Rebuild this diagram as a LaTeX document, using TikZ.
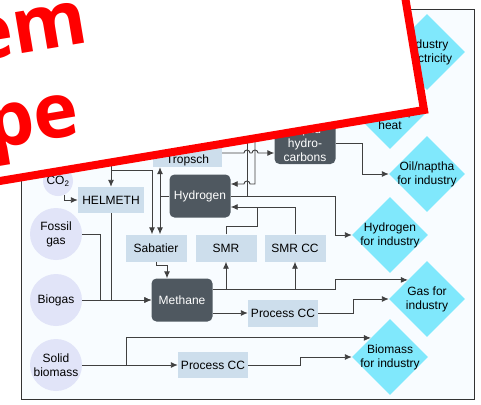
\documentclass[tikz,border=0pt]{standalone}
\usepackage{fontspec}
\setmainfont{Liberation Sans}
\newfontfamily\stampfont{Open Sans}
\usepackage{tikz}
\usetikzlibrary{arrows.meta,shapes.geometric}
\definecolor{framebg}{RGB}{248,252,255}
\definecolor{flowgray}{RGB}{64,64,64}
\definecolor{srcfill}{RGB}{225,228,248}
\definecolor{procfill}{RGB}{205,222,236}
\definecolor{carrierfill}{RGB}{79,88,96}
\definecolor{usefill}{RGB}{128,232,252}

\begin{document}
\begin{tikzpicture}[>={Latex[length=7pt,width=6pt]},x=1pt,y=-1pt,
		every node/.style={font=\fontsize{12}{14}\selectfont,align=center},
		source/.style={circle,fill=srcfill,minimum size=52pt,inner sep=0pt},
		process/.style={rectangle,fill=procfill,minimum width=61pt,minimum height=27pt,inner sep=0pt},
		carrier/.style={rectangle,rounded corners=5pt,fill=carrierfill,text=white,minimum width=61pt,minimum height=43pt,inner sep=0pt},
		enduse/.style={diamond,aspect=1,fill=usefill,minimum width=76pt,minimum height=76pt,inner sep=-12pt},
		flow/.style={->,draw=flowgray,line width=0.9pt},
		link/.style={draw=flowgray,line width=0.9pt},
		stampframe/.style={draw=red,fill=white,line width=8pt},
		stamptext/.style={text=red,font=\stampfont\bfseries\fontsize{76}{90}\selectfont,inner sep=0pt,transform shape}]
			\useasboundingbox (0,0) rectangle (481,404);
			\clip (0,0) rectangle (481,404);

			% Frame of the system
			\draw[draw=black!80,fill=framebg,line width=0.9pt] (21,9) rectangle (474,399);

			% Sources
			\node[source,minimum size=30pt] (CO2) at (58,181) {CO\textsubscript{2}};
			\node[source] (FossilGas) at (56,234) {Fossil\\gas};
			\node[source] (Biogas) at (56,300) {Biogas};
			\node[source] (SolidBio) at (56,365) {Solid\\biomass};

			% Conversion processes
			\node[process,minimum width=66pt,minimum height=26pt] (HELMETH) at (111,200) {HELMETH};
			\node[process,minimum width=69pt,minimum height=28pt] (FT) at (187.5,153) {Fischer-\\Tropsch};
			\node[process] (Sabatier) at (156,248) {Sabatier};
			\node[process] (SMR) at (226,248) {SMR};
			\node[process] (SMRCC) at (295,248) {SMR CC};
			\node[process,minimum width=70pt] (PCCgas) at (283,313) {Process CC};
			\node[process,minimum width=70pt,minimum height=26pt] (PCCbio) at (213,365) {Process CC};

			% Energy carriers
			\node[carrier] (Hydrogen) at (200,196) {Hydrogen};
			\node[carrier] (Methane) at (182,300) {Methane};
			\node[carrier,minimum height=42pt] (LiqHC) at (305,143) {Liquid\\hydro-\\carbons};

			% Uses in industry
			\node[enduse] (ElecInd) at (427,52) {Industry\\electricity};
			\node[enduse] (HeatInd) at (390,111) {Industry\\high temp.\\heat};
			\node[enduse] (OilInd) at (427,174) {Oil/naptha\\for industry};
			\node[enduse] (H2Ind) at (390,235) {Hydrogen\\for industry};
			\node[enduse] (GasInd) at (427,299) {Gas for\\industry};
			\node[enduse] (BioInd) at (390,357) {Biomass\\for industry};

			% Branch points and feeds from above
			\coordinate (topfeed) at (111,120);
			\coordinate (feedsplit) at (111,170);
			\coordinate (h2split) at (160,196);
			\coordinate (h2up) at (247,100);
			\coordinate (elecdown) at (255,100);
			\coordinate (gasmerge) at (100,300);
			\coordinate (biosplit) at (126,365);

			% Methane production
			\draw[flow] (CO2.-65) |- (HELMETH.west);
			\draw[flow] (topfeed) -- (HELMETH.north);
			\draw[flow] (feedsplit) -| ([xshift=-4pt]Sabatier.north);
			\draw[flow] (HELMETH.south) |- (Methane.west);
			\draw[link] (FossilGas.east) -| (gasmerge);
			\draw[flow] (Biogas.east) -- (Methane.west);
			\draw[flow] (Sabatier.south) -- ++(0,4) -| ([xshift=-15pt]Methane.north);

			% Hydrogen
			\draw[flow] (Hydrogen.west) -- (h2split) -- (h2split |- FT.south);
			\draw[flow] (h2split) -- (h2split |- Sabatier.north);
			\draw[flow] (Hydrogen.east) -- (335,196) |- (H2Ind.west);
			\draw[flow] (Hydrogen.east -| h2up) -- (h2up);
			\draw[flow] (elecdown) -- (255,184) -- (250,184) arc[start angle=0,end angle=180,radius=3pt] -- ([yshift=12pt]Hydrogen.east);
			\draw[flow] (SMRCC.north) |- ([yshift=-11pt]Hydrogen.east);
			\draw[link] (SMR.north) -- ++(0,-8) -| (257,207);

			% Liquid hydrocarbons
			\draw[flow] (FT.east) -- (244,153) arc[start angle=180,end angle=0,radius=3pt] -- (252,153) arc[start angle=180,end angle=0,radius=3pt] -- (LiqHC.west |- FT.east);
			\draw[flow] (LiqHC.east) -- (362,143) |- (OilInd.west);

			% Use of methane
			\draw[flow] ([yshift=11pt]Methane.east) -| (SMR.south);
			\draw[flow] ([yshift=11pt]Methane.east) -| (SMRCC.south);
			\draw[flow] ([yshift=11pt]Methane.east) -- (335,289) |- (GasInd.north west);
			\draw[flow] ([yshift=-13pt]Methane.east) -- (PCCgas.west);
			\draw[flow] (PCCgas.east) -- (353,313) |- (GasInd.west);

			% Solid biomass
			\draw[flow] (SolidBio.east) -- (PCCbio.west);
			\draw[flow] (biosplit) |- (BioInd.north west);
			\draw[flow] (PCCbio.east) -- (300,365) |- (BioInd.west);

			% Stamp across the upper left corner
			\begin{scope}[shift={(424,110)},rotate=9.5]
				\draw[stampframe] (-700,0) rectangle (0,-450);
				\node[stamptext,anchor=base east] (stampA) at (-318,-121.5) {System};
				\node[stamptext,anchor=base east] (stampB) at (-341,-33) {scope};
			\end{scope}
		\end{tikzpicture}
\end{document}
